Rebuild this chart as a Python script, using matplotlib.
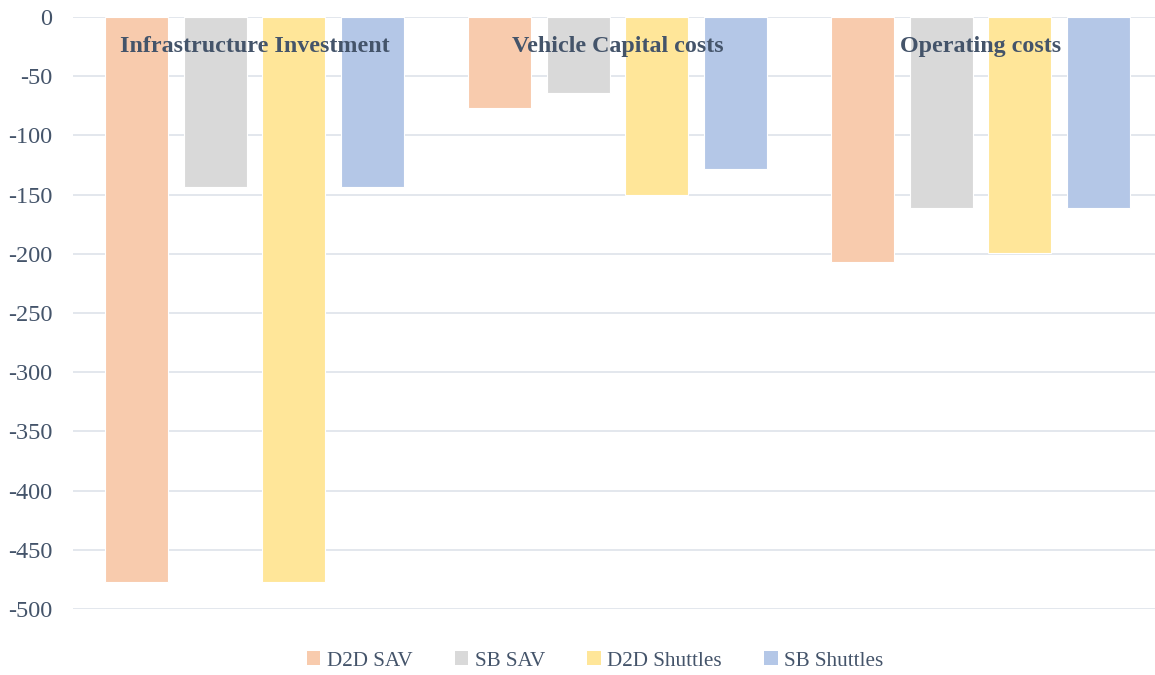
import numpy as np
import matplotlib
matplotlib.use("Agg")
import matplotlib.pyplot as plt
from matplotlib.patches import Patch

categories = ["Infrastructure Investment", "Vehicle Capital costs", "Operating costs"]
series = ["D2D SAV", "SB SAV", "D2D Shuttles", "SB Shuttles"]
d2d_sav = [-477, -77, -207]
sb_sav = [-144, -64, -161]
d2d_shuttles = [-477, -150, -199]
sb_shuttles = [-144, -128, -161]
yticks = [0, -50, -100, -150, -200, -250, -300, -350, -400, -450, -500]

colors = ["#F8CBAD", "#D9D9D9", "#FFE699", "#B4C7E7"]
text_color = "#44546A"

plt.rcParams["font.family"] = ["Liberation Serif", "DejaVu Serif"]

fig = plt.figure(figsize=(11.55, 6.75), dpi=100)
ax = fig.add_axes([73 / 1155, 66 / 675, 1089 / 1155, 592 / 675])

x = np.arange(len(categories))
width = 0.174
pitch = 0.216
values = [d2d_sav, sb_sav, d2d_shuttles, sb_shuttles]
for i, vals in enumerate(values):
    ax.bar(x + (i - 1.5) * pitch, vals, width, color=colors[i],
           edgecolor="white", linewidth=0.8, zorder=2)

# category names sit inside the plot, near the top
for xi, name in zip(x, categories):
    ax.text(xi, -25, name, ha="center", va="center", fontsize=17.3,
            fontweight="bold", color=text_color, zorder=3)

ax.set_xlim(-0.5, 2.5)
ax.set_ylim(-500, 0)
ax.set_yticks(yticks)
ax.set_yticklabels([str(t) for t in yticks])
ax.set_xticks([])
ax.grid(axis="y", color="#E1E5EC", linewidth=1.3, zorder=0)
ax.tick_params(axis="y", length=0, pad=15, labelsize=17.5, labelcolor=text_color)
for s in ax.spines.values():
    s.set_visible(False)

handles = [Patch(facecolor=c, edgecolor="none") for c in colors]
fig.legend(handles, series, loc="center", bbox_to_anchor=(595 / 1155, 1 - 661 / 675),
           ncol=4, frameon=False, fontsize=15.2, labelcolor=text_color,
           handlelength=0.65, handleheight=0.65, handletextpad=0.3, columnspacing=2.0)

fig.savefig("out.png", dpi=100)
